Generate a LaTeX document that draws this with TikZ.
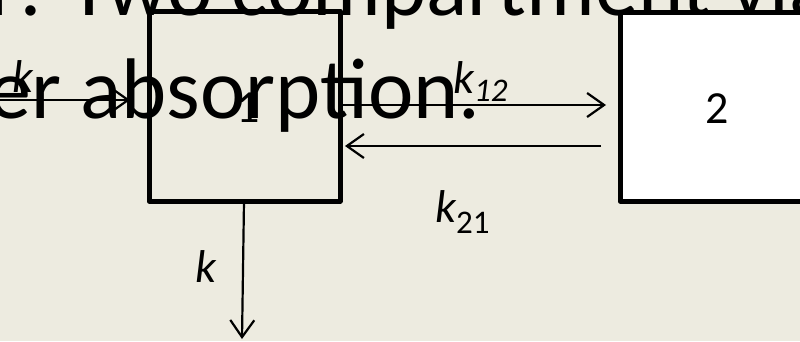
\documentclass[tikz,border=0pt]{standalone}
\usepackage{fontspec}
\setmainfont{Carlito}
\usetikzlibrary{arrows.meta}
\definecolor{bg}{RGB}{237,235,224}
\tikzset{
  boxstyle/.style={draw=black, line width=5pt, line join=round, rectangle, inner sep=0pt},
  flow/.style={line width=2.2pt, -{Straight Barb[length=17pt,width=24pt,line width=2.2pt]}},
  lbl/.style={inner sep=0pt, anchor=base west, font=\fontsize{46}{50}\selectfont},
  title/.style={inner sep=0pt, anchor=base west, font=\fontsize{86}{100}\selectfont}
}
\begin{document}
\begin{tikzpicture}[x=1pt,y=-1pt]
\useasboundingbox (0,0) rectangle (800,341);
\clip (0,0) rectangle (800,341);
\fill[bg] (0,0) rectangle (800,341);
% title fragments
\node[title] (t1) at (-11,15) {r: Two compartment via};
\node[title] (t2) at (-12,118) {er absorption.};
% boxes
\node[boxstyle, minimum width=191pt, minimum height=190pt] (box1) at (244.5,106) {};
\node[boxstyle, fill=white, minimum width=300pt, minimum height=189pt] (box2) at (770,106.5) {};
\node[lbl] (n1) at (236,122) {1};
\node[lbl] (n2) at (705,123) {2};
% coordinates
\coordinate (inS) at (-5,100);
\coordinate (inE) at (130,100);
\coordinate (a12s) at (box1.east |- 0,105);
\coordinate (a12e) at (606,105);
\coordinate (a21s) at (601,146);
\coordinate (a21e) at (box1.east |- 0,146);
\coordinate (outS) at (244,201);
\coordinate (outE) at (242,339);
% arrows
\draw[flow] (inS) -- (inE);
\draw[flow] (a12s) -- (a12e);
\draw[flow] (a21s) -- ([xshift=2.5pt]a21e);
\draw[flow] (outS) -- (outE);
% labels
\node[lbl] (kin) at (12,92) {\itshape k};
\node[lbl] (k12) at (453,93) {\itshape k\raisebox{-8pt}{\fontsize{33}{33}\selectfont 12}};
\node[lbl] (k21) at (435,222) {\itshape k\raisebox{-11pt}{\fontsize{33}{33}\selectfont\upshape 21}};
\node[lbl] (kout) at (195,282) {\itshape k};
\end{tikzpicture}
\end{document}
